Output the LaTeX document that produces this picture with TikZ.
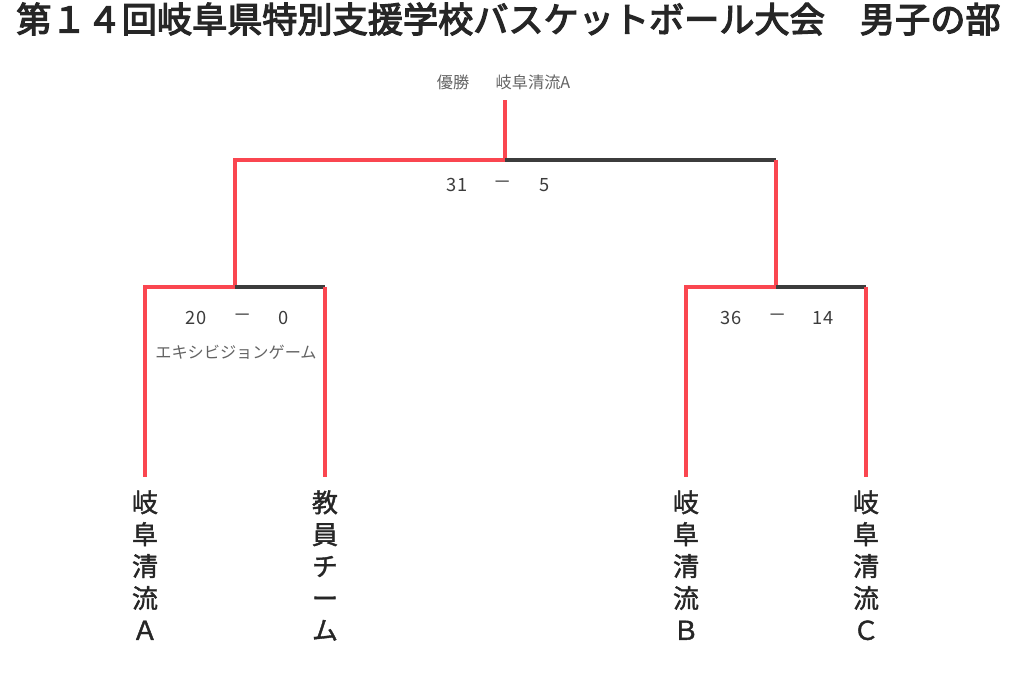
\documentclass[tikz,border=0pt]{standalone}
\usepackage{fontspec}
\setmainfont{Noto Sans CJK JP}
\newfontfamily\headfont[FakeBold=3.5]{Noto Sans CJK JP}
\newfontfamily\teamfont[FakeBold=1.5]{Noto Sans CJK JP}
\definecolor{winred}{RGB}{250,70,80}
\definecolor{loseline}{RGB}{60,60,60}
\definecolor{labelgrey}{RGB}{60,60,60}
\tikzset{
  win/.style={draw=winred,line width=2.2pt},
  lose/.style={draw=loseline,line width=2.2pt},
  score/.style={text=labelgrey,font=\fontsize{13}{15}\selectfont,inner sep=0pt},
  small/.style={text=labelgrey!80,font=\fontsize{11.5}{13}\selectfont,inner sep=0pt},
  team/.style={text=black!85,font=\teamfont\fontsize{18.5}{22.7}\selectfont,align=center,inner sep=0pt,anchor=north}
}
\begin{document}
\begin{tikzpicture}[x=0.025cm,y=-0.025cm]
  \useasboundingbox (0,0) rectangle (1024,686);
  \node[anchor=west,inner sep=0pt,font=\headfont\fontsize{25}{27}\selectfont,text=black!85] (title)
    at (16,19) {第１４回岐阜県特別支援学校バスケットボール大会　男子の部};
  \node[small] (champ) at (453,82) {優勝};
  \node[small] (champname) at (533,82) {岐阜清流A};
  % bracket points
  \coordinate (top) at (505,100);
  \coordinate (fin) at (505,160);
  \coordinate (finL) at (235,160);
  \coordinate (finR) at (776,160);
  \coordinate (semiL) at (235,287);
  \coordinate (semiR) at (776,287);
  \coordinate (aL) at (145,287);
  \coordinate (aR) at (325,287);
  \coordinate (bL) at (686,287);
  \coordinate (bR) at (866,287);
  \coordinate (aLb) at (145,477);
  \coordinate (aRb) at (325,477);
  \coordinate (bLb) at (686,477);
  \coordinate (bRb) at (866,477);
  % teams
  \node[team] (t1) at (145,490) {岐\\阜\\清\\流\\Ａ};
  \node[team] (t2) at (325,490) {教\\員\\チ\\ー\\ム};
  \node[team] (t3) at (686,490) {岐\\阜\\清\\流\\Ｂ};
  \node[team] (t4) at (866,490) {岐\\阜\\清\\流\\Ｃ};
  % lines
  \draw[win] (top) -- (fin) -- (finL) -- (semiL) -- (aL) -- (aLb);
  \draw[lose] (fin) -- (finR);
  \draw[win] (finR) -- (semiR) -- (bL) -- (bLb);
  \draw[lose] (semiL) -- (aR);
  \draw[win] (aR) -- (aRb);
  \draw[lose] (semiR) -- (bR);
  \draw[win] (bR) -- (bRb);
  % scores
  \node[score] (s1a) at (457,185) {31};
  \node[score] (s1d) at (503,185) {－};
  \node[score] (s1b) at (545,185) {5};
  \node[score] (s2a) at (196,318) {20};
  \node[score] (s2d) at (243,318) {－};
  \node[score] (s2b) at (284,318) {0};
  \node[score] (s3a) at (731,318) {36};
  \node[score] (s3d) at (778,318) {－};
  \node[score] (s3b) at (823,318) {14};
  \node[small] (exh) at (236,352) {エキシビジョンゲーム};
\end{tikzpicture}
\end{document}
